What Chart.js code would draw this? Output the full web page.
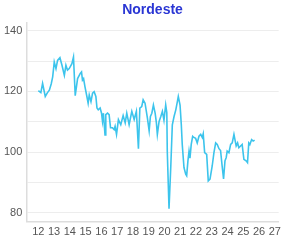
<!DOCTYPE html>
<html>
<head>
<meta charset="utf-8">
<script src="https://cdn.jsdelivr.net/npm/chart.js@4"></script>
<style>
  body { margin: 0; background: #fff; }
</style>
</head>
<body>
<canvas id="chart" width="285" height="243"></canvas>
<script>
  // dates as decimal years (12 = 2012)
  const years = [
    12.0, 12.06, 12.16, 12.27, 12.44, 12.57, 12.70, 12.82, 12.91, 13.01,
    13.12, 13.22, 13.37, 13.50, 13.65, 13.75, 13.85, 13.96, 14.13, 14.23,
    14.34, 14.49, 14.66, 14.74, 14.80, 14.87, 14.96, 15.08, 15.16, 15.23,
    15.34, 15.44, 15.54, 15.65, 15.72, 15.80, 15.92, 16.01, 16.07, 16.13,
    16.23, 16.28, 16.39, 16.49, 16.58, 16.70, 16.81, 16.87, 16.96, 17.08,
    17.23, 17.38, 17.51, 17.61, 17.76, 17.93, 18.08, 18.22, 18.35, 18.44,
    18.56, 18.65, 18.77, 18.92, 19.03, 19.11, 19.20, 19.30, 19.41, 19.49,
    19.55, 19.66, 19.77, 19.87, 19.97, 20.08, 20.15, 20.18, 20.29, 20.40,
    20.50, 20.61, 20.72, 20.82, 20.88, 20.99, 21.07, 21.13, 21.24, 21.35,
    21.41, 21.49, 21.56, 21.62, 21.70, 21.79, 21.87, 21.98, 22.08, 22.19,
    22.30, 22.40, 22.46, 22.55, 22.68, 22.78, 22.89, 23.03, 23.14, 23.25,
    23.35, 23.46, 23.56, 23.66, 23.75, 23.84, 23.92, 23.98, 24.09, 24.20,
    24.30, 24.41, 24.47, 24.55, 24.64, 24.72, 24.83, 24.93, 25.04, 25.18,
    25.27, 25.35, 25.42, 25.53, 25.63, 25.72
  ];
  const values = [
    120.2, 120.0, 119.6, 122.6, 118.3, 119.5, 120.4, 122.5, 124.8, 129.7,
    127.5, 130.2, 131.1, 128.6, 125.3, 128.6, 127.0, 127.5, 129.1, 131.3,
    118.6, 124.2, 125.9, 126.4, 123.7, 124.2, 121.5, 118.3, 116.1, 118.8,
    116.6, 119.4, 119.9, 118.3, 114.5, 113.9, 114.5, 112.8, 110.1, 112.8,
    105.6, 112.3, 112.8, 112.3, 108.0, 108.0, 107.4, 108.5, 105.8, 110.7,
    109.0, 112.0, 109.6, 112.8, 109.0, 113.4, 110.7, 113.4, 101.1, 114.5,
    115.0, 117.2, 116.1, 111.2, 107.0, 111.7, 112.8, 115.5, 112.8, 109.6,
    105.8, 110.1, 111.7, 113.4, 110.5, 115.5, 113.0, 100.3, 81.3, 94.9,
    109.0, 111.7, 113.9, 116.6, 118.3, 115.5, 109.0, 102.5, 94.9, 92.7,
    92.2, 97.1, 100.3, 98.0, 102.5, 105.2, 104.8, 104.5, 103.0, 105.2,
    105.8, 104.8, 106.0, 99.8, 99.2, 90.5, 91.1, 95.4, 99.8, 103.0,
    102.5, 101.1, 100.5, 95.4, 91.1, 97.1, 98.2, 100.3, 99.8, 102.5,
    103.0, 105.8, 104.2, 102.0, 103.0, 101.4, 102.0, 102.5, 97.6, 97.1,
    96.5, 103.0, 102.5, 104.1, 103.6, 103.9
  ];
  const yearTicks = [12, 13, 14, 15, 16, 17, 18, 19, 20, 21, 22, 23, 24, 25, 26, 27];
  const valueTicks = [80, 90, 100, 110, 120, 130, 140];
  const labelledTicks = [80, 100, 120, 140];

  const points = years.map((x, i) => ({ x: x, y: values[i] }));
  const font = "'Liberation Sans', Arial, sans-serif";

  new Chart(document.getElementById("chart"), {
    type: "line",
    data: {
      datasets: [
        {
          data: points,
          borderColor: "#3cc4ec",
          borderWidth: 1.6,
          pointRadius: 0,
          tension: 0,
          fill: false,
        },
      ],
    },
    options: {
      responsive: false,
      animation: false,
      layout: { padding: { left: 0, right: 5, top: 0, bottom: 0 } },
      plugins: {
        legend: { display: false },
        tooltip: { enabled: false },
        title: {
          display: true,
          text: "Nordeste",
          color: "#2a36d4",
          fullSize: false,
          font: { family: font, size: 14, weight: "bold" },
          padding: { top: 2, bottom: 4 },
        },
      },
      scales: {
        x: {
          type: "linear",
          min: 11.24,
          max: 27.25,
          afterBuildTicks: (axis) => {
            axis.ticks = yearTicks.map((v) => ({ value: v }));
          },
          ticks: {
            autoSkip: false,
            maxRotation: 0,
            padding: 4,
            color: "#555",
            font: { family: font, size: 11 },
            callback: (v) => String(v),
          },
          grid: { display: false, drawTicks: false },
          border: { color: "#ddd", width: 1.5 },
        },
        y: {
          min: 77,
          max: 142.6,
          afterBuildTicks: (axis) => {
            axis.ticks = valueTicks.map((v) => ({ value: v }));
          },
          ticks: {
            padding: 4,
            color: "#555",
            font: { family: font, size: 11 },
            callback: (v) => (labelledTicks.includes(v) ? String(v) : ""),
          },
          grid: { color: "rgba(0,0,0,0.07)", drawTicks: false },
          border: { color: "#ddd", width: 1.5 },
        },
      },
    },
  });
</script>
</body>
</html>
